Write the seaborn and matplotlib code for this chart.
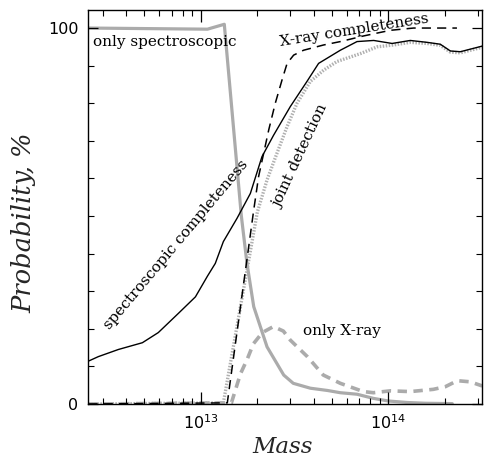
import numpy as np
import matplotlib
matplotlib.use("Agg")
import matplotlib.pyplot as plt
import seaborn as sns
from matplotlib.ticker import FixedLocator, MultipleLocator, LogLocator, NullFormatter, LogFormatterSciNotation

# ---- data (log10 of mass, probability in %) ----
spec_only_logm = [12.40, 13.035, 13.125, 13.216, 13.246, 13.282, 13.353, 13.442, 13.493,
                  13.584, 13.675, 13.744, 13.833, 13.920, 14.000, 14.101, 14.197, 14.341]
spec_only_pct = [100.0, 99.7, 101.0, 50.0, 37.4, 25.9, 15.2, 7.7, 5.5,
                 4.2, 3.6, 3.0, 2.6, 1.5, 0.8, 0.4, 0.2, 0.1]

spec_compl_logm = [12.400, 12.453, 12.560, 12.688, 12.773, 12.880, 12.971, 13.035, 13.077,
                   13.120, 13.193, 13.264, 13.326, 13.388, 13.477, 13.566, 13.628, 13.744,
                   13.833, 13.922, 14.020, 14.117, 14.206, 14.277, 14.331, 14.384, 14.501]
spec_compl_pct = [11.4, 12.6, 14.5, 16.3, 19.0, 24.1, 28.5, 34.0, 37.4,
                  43.2, 49.4, 56.0, 65.8, 71.5, 79.1, 85.8, 90.6, 94.1,
                  96.4, 96.7, 95.9, 96.7, 96.2, 95.7, 93.9, 93.7, 95.2]

xray_compl_logm = [12.40, 13.141, 13.282, 13.308, 13.335, 13.362, 13.397, 13.433, 13.460,
                   13.495, 13.548, 13.655, 13.744, 13.868, 14.011, 14.135, 14.366]
xray_compl_pct = [0.0, 0.3, 51.6, 60.5, 66.7, 72.9, 80.0, 86.2, 90.6,
                  92.8, 94.1, 95.5, 96.4, 97.9, 99.4, 100.0, 100.0]

joint_logm = [12.40, 13.120, 13.301, 13.353, 13.406, 13.460, 13.513, 13.584, 13.655,
              13.726, 13.851, 13.940, 14.028, 14.117, 14.206, 14.277, 14.331, 14.384, 14.501]
joint_pct = [0.0, 0.3, 51.0, 59.6, 66.7, 73.8, 80.0, 85.8, 88.8,
             91.1, 93.2, 95.0, 95.5, 96.2, 95.9, 95.4, 93.6, 93.4, 94.9]

xray_only_logm = [12.40, 13.163, 13.211, 13.248, 13.280, 13.328, 13.387, 13.440, 13.477,
                  13.568, 13.653, 13.744, 13.867, 13.920, 14.011, 14.117, 14.240, 14.304,
                  14.368, 14.437, 14.501]
xray_only_pct = [0.0, 0.3, 8.0, 12.0, 16.0, 19.0, 20.6, 19.4, 17.0,
                 12.6, 7.7, 5.5, 3.3, 3.0, 3.5, 3.3, 3.9, 4.6,
                 6.2, 5.9, 4.8]

x_major_ticks = [1e13, 1e14]
y_major_ticks = [0, 100]
y_major_labels = ["0", "100"]

sns.set_theme(style="ticks")
plt.rcParams["font.family"] = ["DejaVu Sans"]
plt.rcParams["mathtext.fontset"] = "dejavusans"

fig = plt.figure(figsize=(4.91, 4.69), dpi=100)
ax = fig.add_axes([88 / 491, 1 - 404 / 469, 394 / 491, 394 / 469])

GRAY = "#ababab"

def m(logs):
    return 10 ** np.asarray(logs, dtype=float)

sns.lineplot(x=m(spec_only_logm), y=spec_only_pct, ax=ax, color=GRAY, lw=2.3,
             estimator=None, sort=False)
sns.lineplot(x=m(xray_only_logm), y=xray_only_pct, ax=ax, color=GRAY, lw=2.6,
             linestyle=(0, (2.6, 1.8)), estimator=None, sort=False)
sns.lineplot(x=m(joint_logm), y=joint_pct, ax=ax, color="#b0b0b0", lw=2.4,
             linestyle=(0, (0.45, 0.45)), estimator=None, sort=False)
sns.lineplot(x=m(spec_compl_logm), y=spec_compl_pct, ax=ax, color="black", lw=1.0,
             estimator=None, sort=False)
sns.lineplot(x=m(xray_compl_logm), y=xray_compl_pct, ax=ax, color="black", lw=1.1,
             linestyle=(0, (6, 4)), estimator=None, sort=False)

ax.set_xscale("log")
ax.set_xlim(2.5e12, 3.16e14)
ax.set_ylim(0, 104.8)
ax.set_axisbelow(False)

ax.xaxis.set_major_locator(FixedLocator(x_major_ticks))
ax.xaxis.set_major_formatter(LogFormatterSciNotation())
ax.xaxis.set_minor_locator(LogLocator(base=10, subs=np.arange(2, 10)))
ax.xaxis.set_minor_formatter(NullFormatter())
ax.yaxis.set_major_locator(FixedLocator(y_major_ticks))
ax.set_yticklabels(y_major_labels)
ax.yaxis.set_minor_locator(MultipleLocator(10))

for s in ax.spines.values():
    s.set_visible(True)
    s.set_color("black")
    s.set_linewidth(1.0)

ax.tick_params(which="both", direction="in", top=True, right=True, colors="black")
ax.tick_params(axis="x", which="major", length=8.5, width=0.9, labelsize=11.5, pad=7)
ax.tick_params(axis="x", which="minor", length=4.3, width=0.8)
ax.tick_params(axis="y", which="major", length=7.5, width=0.9, labelsize=11.5, pad=7)
ax.tick_params(axis="y", which="minor", length=4.6, width=0.8)

ax.set_xlabel("Mass", family="DejaVu Serif", style="italic", size=16.5)
ax.set_ylabel("Probability, %", family="DejaVu Serif", style="italic", size=18.5)
ax.xaxis.set_label_coords(0.495, -0.082)
ax.yaxis.set_label_coords(-0.13, 0.46)

ann = dict(family="DejaVu Serif", size=11, color="black")
ax.text(10 ** 12.427, 96.3, "only spectroscopic", ha="left", va="center", **ann)
ax.text(10 ** 13.82, 99.4, "X-ray completeness", ha="center", va="center",
        rotation=9, rotation_mode="anchor", **ann)
ax.text(10 ** 12.866, 42.3, "spectroscopic completeness", ha="center", va="center",
        rotation=50, rotation_mode="anchor", **ann)
ax.text(10 ** 13.531, 66.0, "joint detection", ha="center", va="center",
        rotation=65, rotation_mode="anchor", **ann)
ax.text(10 ** 13.547, 19.4, "only X-ray", ha="left", va="center", **ann)

fig.savefig("out.png", dpi=100)
